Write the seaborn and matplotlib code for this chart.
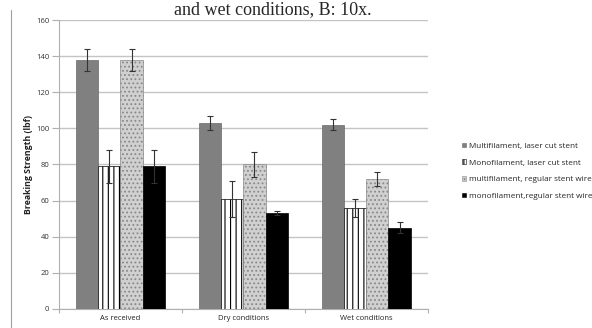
import matplotlib
matplotlib.use("Agg")
import matplotlib.pyplot as plt
import seaborn as sns
import pandas as pd
import numpy as np
from matplotlib.lines import Line2D
from matplotlib.patches import Patch

conditions = ["As received", "Dry conditions", "Wet conditions"]
series = ["Multifilament, laser cut stent", "Monofilament, laser cut stent",
          "multifilament, regular stent wire", "monofilament,regular stent wire"]
values = {
    "Multifilament, laser cut stent": [138, 103, 102],
    "Monofilament, laser cut stent": [79, 61, 56],
    "multifilament, regular stent wire": [138, 80, 72],
    "monofilament,regular stent wire": [79, 53, 45],
}
errors = {
    "Multifilament, laser cut stent": [6, 4, 3],
    "Monofilament, laser cut stent": [9, 10, 5],
    "multifilament, regular stent wire": [6, 7, 4],
    "monofilament,regular stent wire": [9, 1, 3],
}
y_ticks = [0, 20, 40, 60, 80, 100, 120, 140, 160]

rows = []
for s in series:
    for c, v, e in zip(conditions, values[s], errors[s]):
        rows.append({"Condition": c, "Series": s, "Value": v, "Err": e})
df = pd.DataFrame(rows)

sns.set_theme(style="white")
plt.rcParams["font.family"] = ["Open Sans", "DejaVu Sans"]
plt.rcParams["hatch.linewidth"] = 0.8

fig = plt.figure(figsize=(5.92, 3.28), dpi=100)
ax = fig.add_axes([0.0997, 0.058, 0.623, 0.881])

face = ["#808080", "#ffffff", "#d0d0d0", "#000000"]
hatches = [None, "|||", "....", None]
hatch_cols = ["#808080", "#000000", "#888888", "#000000"]
edges = ["#6a6a6a", "#000000", "#b0b0b0", "#000000"]

sns.barplot(data=df, x="Condition", y="Value", hue="Series", hue_order=series,
            order=conditions, palette=face, width=0.72, gap=0, errorbar=None,
            ax=ax, legend=False, zorder=3)

for i, s in enumerate(series):
    cont = ax.containers[i]
    for bar, e in zip(cont.patches, errors[s]):
        if hatches[i]:
            bar.set_hatch(hatches[i])
            bar.set_edgecolor(hatch_cols[i])
        else:
            bar.set_edgecolor(edges[i])
        bar.set_linewidth(0.5)
        cx = bar.get_x() + bar.get_width() / 2
        ax.errorbar(cx, bar.get_height(), yerr=e, fmt="none", ecolor="#333333",
                    elinewidth=0.8, capsize=2, capthick=0.8, zorder=5)

ax.set_ylim(0, 160)
ax.set_xlim(-0.5, 2.5)
ax.set_yticks(y_ticks)
ax.set_yticklabels([str(t) for t in y_ticks], fontsize=5.5, color="#333333")
ax.tick_params(axis="x", labelsize=5.5, length=0, pad=4, labelcolor="#222222")
ax.set_xticks([-0.5, 0.5, 1.5, 2.5], minor=True)
ax.tick_params(axis="x", which="minor", length=3, color="#b0b0b0", width=0.8, bottom=True)
ax.tick_params(axis="y", length=5, color="#b0b0b0", width=0.8, left=True, pad=2)
ax.yaxis.grid(True, color="#c4c4c4", linewidth=1.0, zorder=0)
ax.set_axisbelow(True)
for sp in ["top", "right"]:
    ax.spines[sp].set_visible(False)
for sp in ["left", "bottom"]:
    ax.spines[sp].set_color("#b0b0b0")
    ax.spines[sp].set_linewidth(0.8)
ax.set_xlabel("")
ax.set_ylabel("Breaking Strength (lbf)", fontsize=6.3, fontweight="bold", labelpad=2, color="#222222")

handles = []
for i, s in enumerate(series):
    handles.append(Patch(facecolor=face[i], hatch=hatches[i],
                         edgecolor=hatch_cols[i] if hatches[i] else edges[i],
                         linewidth=0.4, label=s))
fig.legend(handles=handles, loc="upper left", bbox_to_anchor=(0.775, 0.575),
           frameon=False, fontsize=5.9, handlelength=0.5, handleheight=0.5,
           handletextpad=0.3, labelspacing=1.15, borderaxespad=0)

fig.text(0.46, 0.998, "and wet conditions, B: 10x.", fontsize=13,
         family=["Liberation Serif", "DejaVu Serif"], ha="center", va="top")
fig.add_artist(Line2D([0.0185, 0.0185], [0.0, 0.97], transform=fig.transFigure,
                      color="#a0a0a0", linewidth=0.8))

fig.savefig("out.png", dpi=100)
